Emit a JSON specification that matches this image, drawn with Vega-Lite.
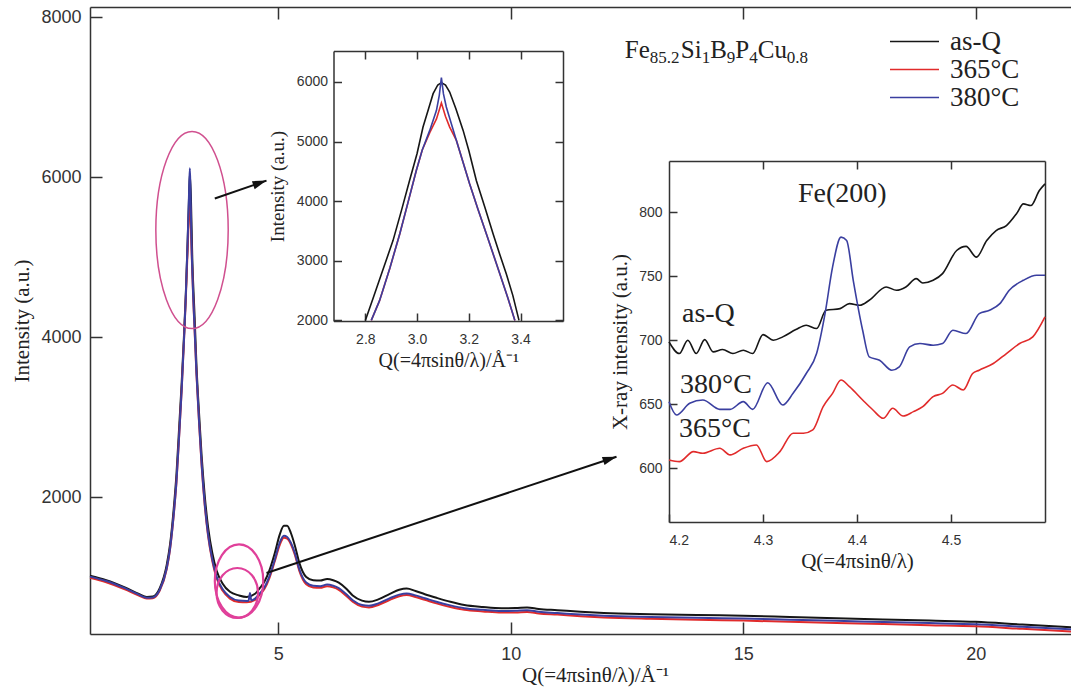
{
"$schema":"https://vega.github.io/schema/vega-lite/v6.json",
"width":983,"height":627,"autosize":"none",
"padding":{"left":90,"top":7,"right":0,"bottom":54},
"background":"white",
"config":{"view":{"stroke":null},"font":"Liberation Serif",
 "axis":{"grid":false,"labelFont":"Liberation Sans","titleFont":"Liberation Serif","titleFontWeight":"normal","labelColor":"#333","titleColor":"#222","domainColor":"#333","tickColor":"#333","domainWidth":1.5,"tickWidth":1.5}},
"datasets":{
"main":[
{"s":"as-Q","q":0.95,"v":1015},{"s":"as-Q","q":1.3,"v":960},{"s":"as-Q","q":1.7,"v":870},{"s":"as-Q","q":2.0,"v":790},{"s":"as-Q","q":2.17,"v":750},{"s":"as-Q","q":2.3,"v":755},{"s":"as-Q","q":2.45,"v":860},{"s":"as-Q","q":2.6,"v":1150},{"s":"as-Q","q":2.67,"v":1400},{"s":"as-Q","q":2.75,"v":1850},{"s":"as-Q","q":2.81,"v":2290},{"s":"as-Q","q":2.87,"v":2900},{"s":"as-Q","q":2.92,"v":3410},{"s":"as-Q","q":2.97,"v":4000},{"s":"as-Q","q":3.01,"v":4530},{"s":"as-Q","q":3.05,"v":5200},{"s":"as-Q","q":3.08,"v":5750},{"s":"as-Q","q":3.097,"v":6040},{"s":"as-Q","q":3.12,"v":5750},{"s":"as-Q","q":3.15,"v":4980},{"s":"as-Q","q":3.2,"v":4250},{"s":"as-Q","q":3.24,"v":3640},{"s":"as-Q","q":3.3,"v":3000},{"s":"as-Q","q":3.35,"v":2520},{"s":"as-Q","q":3.42,"v":2000},{"s":"as-Q","q":3.49,"v":1620},{"s":"as-Q","q":3.58,"v":1300},{"s":"as-Q","q":3.67,"v":1085},{"s":"as-Q","q":3.8,"v":920},{"s":"as-Q","q":3.96,"v":815},{"s":"as-Q","q":4.15,"v":770},{"s":"as-Q","q":4.32,"v":750},{"s":"as-Q","q":4.5,"v":790},{"s":"as-Q","q":4.6,"v":860},{"s":"as-Q","q":4.7,"v":940},{"s":"as-Q","q":4.81,"v":1085},{"s":"as-Q","q":4.92,"v":1290},{"s":"as-Q","q":5.03,"v":1530},{"s":"as-Q","q":5.12,"v":1640},{"s":"as-Q","q":5.19,"v":1640},{"s":"as-Q","q":5.27,"v":1550},{"s":"as-Q","q":5.355,"v":1395},{"s":"as-Q","q":5.45,"v":1180},{"s":"as-Q","q":5.6,"v":1000},{"s":"as-Q","q":5.75,"v":960},{"s":"as-Q","q":5.9,"v":955},{"s":"as-Q","q":6.05,"v":975},{"s":"as-Q","q":6.18,"v":960},{"s":"as-Q","q":6.3,"v":930},{"s":"as-Q","q":6.45,"v":860},{"s":"as-Q","q":6.6,"v":770},{"s":"as-Q","q":6.8,"v":705},{"s":"as-Q","q":6.95,"v":690},{"s":"as-Q","q":7.15,"v":720},{"s":"as-Q","q":7.4,"v":790},{"s":"as-Q","q":7.6,"v":840},{"s":"as-Q","q":7.76,"v":855},{"s":"as-Q","q":7.95,"v":825},{"s":"as-Q","q":8.15,"v":785},{"s":"as-Q","q":8.4,"v":740},{"s":"as-Q","q":8.7,"v":690},{"s":"as-Q","q":9.0,"v":650},{"s":"as-Q","q":9.4,"v":625},{"s":"as-Q","q":9.8,"v":610},{"s":"as-Q","q":10.1,"v":612},{"s":"as-Q","q":10.35,"v":620},{"s":"as-Q","q":10.6,"v":600},{"s":"as-Q","q":11.0,"v":585},{"s":"as-Q","q":11.5,"v":565},{"s":"as-Q","q":12,"v":550},{"s":"as-Q","q":13,"v":535},{"s":"as-Q","q":14,"v":525},{"s":"as-Q","q":15,"v":515},{"s":"as-Q","q":16,"v":500},{"s":"as-Q","q":17,"v":485},{"s":"as-Q","q":18,"v":470},{"s":"as-Q","q":19,"v":455},{"s":"as-Q","q":20,"v":440},{"s":"as-Q","q":21,"v":405},{"s":"as-Q","q":22.1,"v":370},
{"s":"365°C","q":0.95,"v":990},{"s":"365°C","q":1.3,"v":935},{"s":"365°C","q":1.7,"v":845},{"s":"365°C","q":2.0,"v":768},{"s":"365°C","q":2.17,"v":732},{"s":"365°C","q":2.3,"v":735},{"s":"365°C","q":2.45,"v":830},{"s":"365°C","q":2.6,"v":1100},{"s":"365°C","q":2.67,"v":1340},{"s":"365°C","q":2.75,"v":1770},{"s":"365°C","q":2.81,"v":2190},{"s":"365°C","q":2.87,"v":2790},{"s":"365°C","q":2.92,"v":3320},{"s":"365°C","q":2.97,"v":3940},{"s":"365°C","q":3.01,"v":4480},{"s":"365°C","q":3.05,"v":5100},{"s":"365°C","q":3.08,"v":5550},{"s":"365°C","q":3.097,"v":5700},{"s":"365°C","q":3.11,"v":5600},{"s":"365°C","q":3.13,"v":5150},{"s":"365°C","q":3.17,"v":4480},{"s":"365°C","q":3.2,"v":4080},{"s":"365°C","q":3.24,"v":3530},{"s":"365°C","q":3.3,"v":2880},{"s":"365°C","q":3.35,"v":2400},{"s":"365°C","q":3.42,"v":1880},{"s":"365°C","q":3.49,"v":1510},{"s":"365°C","q":3.58,"v":1200},{"s":"365°C","q":3.67,"v":990},{"s":"365°C","q":3.8,"v":830},{"s":"365°C","q":3.96,"v":730},{"s":"365°C","q":4.15,"v":688},{"s":"365°C","q":4.32,"v":685},{"s":"365°C","q":4.5,"v":715},{"s":"365°C","q":4.6,"v":780},{"s":"365°C","q":4.7,"v":850},{"s":"365°C","q":4.81,"v":990},{"s":"365°C","q":4.92,"v":1190},{"s":"365°C","q":5.03,"v":1400},{"s":"365°C","q":5.12,"v":1490},{"s":"365°C","q":5.19,"v":1480},{"s":"365°C","q":5.27,"v":1410},{"s":"365°C","q":5.355,"v":1280},{"s":"365°C","q":5.45,"v":1080},{"s":"365°C","q":5.6,"v":910},{"s":"365°C","q":5.75,"v":870},{"s":"365°C","q":5.9,"v":865},{"s":"365°C","q":6.05,"v":885},{"s":"365°C","q":6.18,"v":870},{"s":"365°C","q":6.3,"v":840},{"s":"365°C","q":6.45,"v":770},{"s":"365°C","q":6.6,"v":690},{"s":"365°C","q":6.8,"v":630},{"s":"365°C","q":6.95,"v":620},{"s":"365°C","q":7.15,"v":650},{"s":"365°C","q":7.4,"v":715},{"s":"365°C","q":7.6,"v":760},{"s":"365°C","q":7.76,"v":775},{"s":"365°C","q":7.95,"v":750},{"s":"365°C","q":8.15,"v":715},{"s":"365°C","q":8.4,"v":670},{"s":"365°C","q":8.7,"v":625},{"s":"365°C","q":9.0,"v":590},{"s":"365°C","q":9.4,"v":570},{"s":"365°C","q":9.8,"v":555},{"s":"365°C","q":10.1,"v":556},{"s":"365°C","q":10.35,"v":562},{"s":"365°C","q":10.6,"v":545},{"s":"365°C","q":11.0,"v":530},{"s":"365°C","q":11.5,"v":510},{"s":"365°C","q":12,"v":495},{"s":"365°C","q":13,"v":478},{"s":"365°C","q":14,"v":466},{"s":"365°C","q":15,"v":455},{"s":"365°C","q":16,"v":440},{"s":"365°C","q":17,"v":426},{"s":"365°C","q":18,"v":412},{"s":"365°C","q":19,"v":398},{"s":"365°C","q":20,"v":384},{"s":"365°C","q":21,"v":352},{"s":"365°C","q":22.1,"v":318},
{"s":"380°C","q":0.95,"v":1005},{"s":"380°C","q":1.3,"v":950},{"s":"380°C","q":1.7,"v":860},{"s":"380°C","q":2.0,"v":780},{"s":"380°C","q":2.17,"v":742},{"s":"380°C","q":2.3,"v":745},{"s":"380°C","q":2.45,"v":840},{"s":"380°C","q":2.6,"v":1110},{"s":"380°C","q":2.67,"v":1350},{"s":"380°C","q":2.75,"v":1780},{"s":"380°C","q":2.81,"v":2200},{"s":"380°C","q":2.87,"v":2800},{"s":"380°C","q":2.92,"v":3330},{"s":"380°C","q":2.97,"v":3950},{"s":"380°C","q":3.01,"v":4500},{"s":"380°C","q":3.05,"v":5200},{"s":"380°C","q":3.08,"v":5800},{"s":"380°C","q":3.097,"v":6110},{"s":"380°C","q":3.11,"v":5850},{"s":"380°C","q":3.13,"v":5250},{"s":"380°C","q":3.17,"v":4500},{"s":"380°C","q":3.2,"v":4100},{"s":"380°C","q":3.24,"v":3550},{"s":"380°C","q":3.3,"v":2900},{"s":"380°C","q":3.35,"v":2420},{"s":"380°C","q":3.42,"v":1900},{"s":"380°C","q":3.49,"v":1530},{"s":"380°C","q":3.58,"v":1220},{"s":"380°C","q":3.67,"v":1010},{"s":"380°C","q":3.8,"v":850},{"s":"380°C","q":3.96,"v":750},{"s":"380°C","q":4.15,"v":705},{"s":"380°C","q":4.32,"v":700},{"s":"380°C","q":4.36,"v":703},{"s":"380°C","q":4.39,"v":800},{"s":"380°C","q":4.42,"v":706},{"s":"380°C","q":4.5,"v":730},{"s":"380°C","q":4.6,"v":795},{"s":"380°C","q":4.7,"v":870},{"s":"380°C","q":4.81,"v":1010},{"s":"380°C","q":4.92,"v":1210},{"s":"380°C","q":5.03,"v":1430},{"s":"380°C","q":5.12,"v":1515},{"s":"380°C","q":5.19,"v":1500},{"s":"380°C","q":5.27,"v":1430},{"s":"380°C","q":5.355,"v":1300},{"s":"380°C","q":5.45,"v":1100},{"s":"380°C","q":5.6,"v":930},{"s":"380°C","q":5.75,"v":890},{"s":"380°C","q":5.9,"v":885},{"s":"380°C","q":6.05,"v":905},{"s":"380°C","q":6.18,"v":890},{"s":"380°C","q":6.3,"v":860},{"s":"380°C","q":6.45,"v":790},{"s":"380°C","q":6.6,"v":710},{"s":"380°C","q":6.8,"v":650},{"s":"380°C","q":6.95,"v":640},{"s":"380°C","q":7.15,"v":670},{"s":"380°C","q":7.4,"v":735},{"s":"380°C","q":7.6,"v":780},{"s":"380°C","q":7.76,"v":795},{"s":"380°C","q":7.95,"v":770},{"s":"380°C","q":8.15,"v":735},{"s":"380°C","q":8.4,"v":690},{"s":"380°C","q":8.7,"v":645},{"s":"380°C","q":9.0,"v":610},{"s":"380°C","q":9.4,"v":590},{"s":"380°C","q":9.8,"v":575},{"s":"380°C","q":10.1,"v":578},{"s":"380°C","q":10.35,"v":585},{"s":"380°C","q":10.6,"v":565},{"s":"380°C","q":11.0,"v":550},{"s":"380°C","q":11.5,"v":530},{"s":"380°C","q":12,"v":515},{"s":"380°C","q":13,"v":500},{"s":"380°C","q":14,"v":490},{"s":"380°C","q":15,"v":480},{"s":"380°C","q":16,"v":466},{"s":"380°C","q":17,"v":452},{"s":"380°C","q":18,"v":438},{"s":"380°C","q":19,"v":424},{"s":"380°C","q":20,"v":410},{"s":"380°C","q":21,"v":378},{"s":"380°C","q":22.1,"v":345}
],
"in1":[
{"s":"as-Q","q":2.8,"v":2000},{"s":"as-Q","q":2.829,"v":2359},{"s":"as-Q","q":2.868,"v":2850},{"s":"as-Q","q":2.907,"v":3339},{"s":"as-Q","q":2.94,"v":3850},{"s":"as-Q","q":2.971,"v":4347},{"s":"as-Q","q":3.0,"v":4800},{"s":"as-Q","q":3.023,"v":5244},{"s":"as-Q","q":3.045,"v":5560},{"s":"as-Q","q":3.062,"v":5804},{"s":"as-Q","q":3.08,"v":5950},{"s":"as-Q","q":3.094,"v":5990},{"s":"as-Q","q":3.11,"v":5950},{"s":"as-Q","q":3.126,"v":5832},{"s":"as-Q","q":3.15,"v":5550},{"s":"as-Q","q":3.178,"v":5188},{"s":"as-Q","q":3.2,"v":4850},{"s":"as-Q","q":3.229,"v":4347},{"s":"as-Q","q":3.262,"v":3900},{"s":"as-Q","q":3.294,"v":3451},{"s":"as-Q","q":3.32,"v":3100},{"s":"as-Q","q":3.345,"v":2779},{"s":"as-Q","q":3.37,"v":2420},{"s":"as-Q","q":3.394,"v":2000},
{"s":"365°C","q":2.823,"v":2000},{"s":"365°C","q":2.855,"v":2331},{"s":"365°C","q":2.895,"v":2880},{"s":"365°C","q":2.933,"v":3451},{"s":"365°C","q":2.965,"v":3980},{"s":"365°C","q":2.997,"v":4515},{"s":"365°C","q":3.02,"v":4860},{"s":"365°C","q":3.049,"v":5150},{"s":"365°C","q":3.075,"v":5380},{"s":"365°C","q":3.094,"v":5647},{"s":"365°C","q":3.11,"v":5420},{"s":"365°C","q":3.126,"v":5244},{"s":"365°C","q":3.152,"v":5020},{"s":"365°C","q":3.203,"v":4291},{"s":"365°C","q":3.235,"v":3870},{"s":"365°C","q":3.268,"v":3451},{"s":"365°C","q":3.32,"v":2779},{"s":"365°C","q":3.35,"v":2390},{"s":"365°C","q":3.378,"v":2000},
{"s":"380°C","q":2.823,"v":2000},{"s":"380°C","q":2.855,"v":2331},{"s":"380°C","q":2.895,"v":2880},{"s":"380°C","q":2.933,"v":3451},{"s":"380°C","q":2.965,"v":3980},{"s":"380°C","q":2.997,"v":4515},{"s":"380°C","q":3.02,"v":4860},{"s":"380°C","q":3.049,"v":5188},{"s":"380°C","q":3.075,"v":5524},{"s":"380°C","q":3.086,"v":5780},{"s":"380°C","q":3.094,"v":6073},{"s":"380°C","q":3.102,"v":5800},{"s":"380°C","q":3.113,"v":5580},{"s":"380°C","q":3.152,"v":5020},{"s":"380°C","q":3.203,"v":4291},{"s":"380°C","q":3.235,"v":3870},{"s":"380°C","q":3.268,"v":3451},{"s":"380°C","q":3.32,"v":2779},{"s":"380°C","q":3.35,"v":2390},{"s":"380°C","q":3.378,"v":2000}
],
"in2":[
{"s":"as-Q","q":4.2,"v":698.7},{"s":"as-Q","q":4.211,"v":689.6},{"s":"as-Q","q":4.22,"v":700.0},{"s":"as-Q","q":4.229,"v":689.6},{"s":"as-Q","q":4.238,"v":700.5},{"s":"as-Q","q":4.247,"v":690.9},{"s":"as-Q","q":4.257,"v":692.7},{"s":"as-Q","q":4.268,"v":689.6},{"s":"as-Q","q":4.279,"v":692.2},{"s":"as-Q","q":4.289,"v":689.6},{"s":"as-Q","q":4.3,"v":704.4},{"s":"as-Q","q":4.311,"v":700.0},{"s":"as-Q","q":4.321,"v":702.6},{"s":"as-Q","q":4.335,"v":708.3},{"s":"as-Q","q":4.346,"v":711.7},{"s":"as-Q","q":4.357,"v":709.1},{"s":"as-Q","q":4.367,"v":723.4},{"s":"as-Q","q":4.382,"v":724.7},{"s":"as-Q","q":4.392,"v":728.6},{"s":"as-Q","q":4.403,"v":727.3},{"s":"as-Q","q":4.413,"v":731.2},{"s":"as-Q","q":4.431,"v":741.6},{"s":"as-Q","q":4.442,"v":739.0},{"s":"as-Q","q":4.452,"v":741.6},{"s":"as-Q","q":4.463,"v":748.1},{"s":"as-Q","q":4.47,"v":744.7},{"s":"as-Q","q":4.481,"v":746.8},{"s":"as-Q","q":4.491,"v":752.0},{"s":"as-Q","q":4.506,"v":770.1},{"s":"as-Q","q":4.516,"v":773.3},{"s":"as-Q","q":4.527,"v":764.9},{"s":"as-Q","q":4.538,"v":777.9},{"s":"as-Q","q":4.548,"v":785.7},{"s":"as-Q","q":4.559,"v":789.6},{"s":"as-Q","q":4.57,"v":799.2},{"s":"as-Q","q":4.577,"v":806.5},{"s":"as-Q","q":4.585,"v":805.2},{"s":"as-Q","q":4.594,"v":816.9},{"s":"as-Q","q":4.6,"v":822.1},
{"s":"365°C","q":4.2,"v":606.5},{"s":"365°C","q":4.211,"v":605.2},{"s":"365°C","q":4.226,"v":613.0},{"s":"365°C","q":4.236,"v":611.7},{"s":"365°C","q":4.254,"v":615.6},{"s":"365°C","q":4.265,"v":610.4},{"s":"365°C","q":4.279,"v":615.6},{"s":"365°C","q":4.293,"v":618.2},{"s":"365°C","q":4.304,"v":605.2},{"s":"365°C","q":4.318,"v":613.0},{"s":"365°C","q":4.332,"v":627.3},{"s":"365°C","q":4.343,"v":627.3},{"s":"365°C","q":4.353,"v":629.9},{"s":"365°C","q":4.364,"v":648.1},{"s":"365°C","q":4.374,"v":658.5},{"s":"365°C","q":4.383,"v":668.9},{"s":"365°C","q":4.392,"v":663.7},{"s":"365°C","q":4.406,"v":653.3},{"s":"365°C","q":4.417,"v":645.5},{"s":"365°C","q":4.428,"v":639.0},{"s":"365°C","q":4.438,"v":646.8},{"s":"365°C","q":4.449,"v":640.8},{"s":"365°C","q":4.46,"v":644.2},{"s":"365°C","q":4.47,"v":648.1},{"s":"365°C","q":4.481,"v":655.9},{"s":"365°C","q":4.491,"v":658.5},{"s":"365°C","q":4.502,"v":665.0},{"s":"365°C","q":4.513,"v":661.1},{"s":"365°C","q":4.523,"v":674.0},{"s":"365°C","q":4.53,"v":676.6},{"s":"365°C","q":4.545,"v":681.8},{"s":"365°C","q":4.559,"v":689.6},{"s":"365°C","q":4.573,"v":697.4},{"s":"365°C","q":4.587,"v":702.6},{"s":"365°C","q":4.6,"v":718.2},
{"s":"380°C","q":4.2,"v":652},{"s":"380°C","q":4.208,"v":641.6},{"s":"380°C","q":4.222,"v":650.7},{"s":"380°C","q":4.236,"v":653.3},{"s":"380°C","q":4.254,"v":646.0},{"s":"380°C","q":4.265,"v":646.0},{"s":"380°C","q":4.279,"v":652.0},{"s":"380°C","q":4.289,"v":646.0},{"s":"380°C","q":4.305,"v":666.8},{"s":"380°C","q":4.321,"v":649.4},{"s":"380°C","q":4.332,"v":658.5},{"s":"380°C","q":4.346,"v":674.0},{"s":"380°C","q":4.357,"v":689.6},{"s":"380°C","q":4.366,"v":720.8},{"s":"380°C","q":4.374,"v":757.1},{"s":"380°C","q":4.383,"v":780.5},{"s":"380°C","q":4.389,"v":777.9},{"s":"380°C","q":4.396,"v":746.8},{"s":"380°C","q":4.406,"v":707.8},{"s":"380°C","q":4.413,"v":687.0},{"s":"380°C","q":4.424,"v":684.4},{"s":"380°C","q":4.437,"v":676.6},{"s":"380°C","q":4.445,"v":679.2},{"s":"380°C","q":4.456,"v":694.8},{"s":"380°C","q":4.467,"v":697.4},{"s":"380°C","q":4.481,"v":696.1},{"s":"380°C","q":4.491,"v":697.4},{"s":"380°C","q":4.502,"v":707.8},{"s":"380°C","q":4.516,"v":705.2},{"s":"380°C","q":4.53,"v":720.8},{"s":"380°C","q":4.541,"v":723.4},{"s":"380°C","q":4.552,"v":728.6},{"s":"380°C","q":4.562,"v":739.0},{"s":"380°C","q":4.577,"v":746.8},{"s":"380°C","q":4.591,"v":750.7},{"s":"380°C","q":4.6,"v":750.7}
]
},
"layer":[
{
 "encoding":{
  "x":{"field":"q","type":"quantitative","scale":{"domain":[0.95,22.09],"nice":false,"zero":false},
   "axis":{"orient":"bottom","values":[5,10,15,20],"format":"d","title":"Q(=4πsinθ/λ)/Å⁻¹","tickSize":-12,"labelFontSize":18,"labelPadding":23,"titleFontSize":21,"titlePadding":1,"titleX":505}},
  "y":{"field":"v","type":"quantitative","scale":{"domain":[287.5,8125],"nice":false,"zero":false},
   "axis":{"orient":"left","values":[2000,4000,6000,8000],"format":"d","title":"Intensity (a.u.)","tickSize":-12,"labelFontSize":18,"labelPadding":21,"titleFontSize":21,"titlePadding":8}}
 },
 "layer":[
  {"layer":[
   {"data":{"name":"main"},"mark":{"type":"line","strokeWidth":2,"interpolate":"monotone"},
    "encoding":{"color":{"field":"s","type":"nominal","scale":{"domain":["as-Q","365°C","380°C"],"range":["#161616","#e12b2b","#3a3fa0"]},
     "legend":{"orient":"none","legendX":811,"legendY":21,"title":null,"symbolType":"M -7 0 L 7 0","symbolSize":49,"symbolStrokeWidth":1.6,"labelFont":"Liberation Serif","labelFontSize":27,"labelColor":"#222","labelOffset":22,"rowPadding":0,"padding":0}}}},
   {"data":{"values":[{"q":3.144,"v":5337.5}]},"mark":{"type":"point","shape":"M -0.367 0 A 0.367 1 0 1 0 0.367 0 A 0.367 1 0 1 0 -0.367 0 Z","size":38888,"filled":false,"color":"#d0508f","strokeWidth":1.5,"opacity":1}},
   {"data":{"values":[{"q":4.155,"v":950}]},"mark":{"type":"point","shape":"M -0.66 0 A 0.66 1 0 1 0 0.66 0 A 0.66 1 0 1 0 -0.66 0 Z","size":5388,"filled":false,"color":"#e0409a","strokeWidth":2.2,"opacity":1}},
   {"data":{"values":[{"q":4.118,"v":800}]},"mark":{"type":"point","shape":"M -0.83 0 A 0.83 1 0 1 0 0.83 0 A 0.83 1 0 1 0 -0.83 0 Z","size":2500,"filled":false,"color":"#e0409a","strokeWidth":2.2,"opacity":1}},
   {"data":{"values":[{"q":3.634,"v":5731,"q2":4.746,"v2":5955}]},"mark":{"type":"rule","color":"#111","strokeWidth":2},"encoding":{"x2":{"field":"q2"},"y2":{"field":"v2"}}},
   {"data":{"values":[{"q":4.746,"v":5955}]},"mark":{"type":"point","shape":"M 0 0 L -2 -0.6 L -2 0.6 Z","size":196,"filled":true,"color":"#111","angle":-19,"opacity":1}},
   {"data":{"values":[{"q":4.746,"v":1050,"q2":12.273,"v2":2504}]},"mark":{"type":"rule","color":"#111","strokeWidth":2},"encoding":{"x2":{"field":"q2"},"y2":{"field":"v2"}}},
   {"data":{"values":[{"q":12.273,"v":2504}]},"mark":{"type":"point","shape":"M 0 0 L -2 -0.6 L -2 0.6 Z","size":196,"filled":true,"color":"#111","angle":-18.4,"opacity":1}},
   {"data":{"values":[{"t":"Fe","q":12.452,"v":7487.5},{"t":"Si","q":13.656,"v":7487.5},{"t":"B","q":14.29,"v":7487.5},{"t":"P","q":14.828,"v":7487.5},{"t":"Cu","q":15.312,"v":7487.5}]},
    "mark":{"type":"text","align":"left","baseline":"alphabetic","font":"Liberation Serif","fontSize":25,"color":"#222"},"encoding":{"text":{"field":"t","type":"nominal"}}},
   {"data":{"values":[{"t":"85.2","q":12.989,"v":7425},{"t":"1","q":14.108,"v":7425},{"t":"9","q":14.645,"v":7425},{"t":"4","q":15.129,"v":7425},{"t":"0.8","q":15.935,"v":7425}]},
    "mark":{"type":"text","align":"left","baseline":"alphabetic","font":"Liberation Serif","fontSize":17,"color":"#222"},"encoding":{"text":{"field":"t","type":"nominal"}}}
  ]},
  {"data":{"name":"main"},"mark":{"type":"point","opacity":0},
   "encoding":{"x":{"field":"q","type":"quantitative","scale":{"domain":[0.95,22.09],"nice":false,"zero":false},
    "axis":{"orient":"top","values":[5,10,15,20],"labels":false,"title":null,"tickSize":-12}}}}
 ],
 "resolve":{"axis":{"x":"independent"}}
},
{
 "encoding":{
  "x":{"field":"q","type":"quantitative","scale":{"domain":[2.677,3.564],"range":[243.5,473],"nice":false,"zero":false},
   "axis":{"orient":"bottom","offset":-313,"values":[2.8,3.0,3.2,3.4],"format":".1f","title":"Q(=4πsinθ/λ)/Å⁻¹","tickSize":-8,"labelFontSize":14,"labelPadding":19,"titleFontSize":20,"titlePadding":4}},
  "y":{"field":"v","type":"quantitative","scale":{"domain":[1990,6520],"range":[314,44],"nice":false,"zero":false},
   "axis":{"orient":"left","offset":-243.5,"values":[2000,3000,4000,5000,6000],"format":"d","title":"Intensity (a.u.)","tickSize":-8,"labelFontSize":14,"labelPadding":14,"titleFontSize":19,"titlePadding":9}}
 },
 "layer":[
  {"data":{"name":"in1"},"mark":{"type":"line","strokeWidth":1.6},
   "encoding":{"color":{"field":"s","type":"nominal","scale":{"domain":["as-Q","365°C","380°C"],"range":["#161616","#e12b2b","#3a3fa0"]},
     "legend":{"orient":"none","legendX":811,"legendY":21,"title":null,"symbolType":"M -7 0 L 7 0","symbolSize":49,"symbolStrokeWidth":1.6,"labelFont":"Liberation Serif","labelFontSize":27,"labelColor":"#222","labelOffset":22,"rowPadding":0,"padding":0}}}},
  {"data":{"name":"in1"},"mark":{"type":"point","opacity":0},
   "encoding":{
    "x":{"field":"q","type":"quantitative","scale":{"domain":[2.677,3.564],"range":[243.5,473],"nice":false,"zero":false},
     "axis":{"orient":"top","offset":-44,"values":[2.8,3.0,3.2,3.4],"labels":false,"title":null,"tickSize":-8}},
    "y":{"field":"v","type":"quantitative","scale":{"domain":[1990,6520],"range":[314,44],"nice":false,"zero":false},
     "axis":{"orient":"right","offset":-510,"values":[2000,3000,4000,5000,6000],"labels":false,"title":null,"tickSize":-8}}}}
 ],
 "resolve":{"axis":{"x":"independent","y":"independent"}}
},
{
 "encoding":{
  "x":{"field":"q","type":"quantitative","scale":{"domain":[4.2,4.6],"range":[579,955],"nice":false,"zero":false},
   "axis":{"orient":"bottom","offset":-112,"values":[4.2,4.3,4.4,4.5],"format":".1f","title":"Q(=4πsinθ/λ)","tickSize":-8,"labelFontSize":14,"labelPadding":19,"titleFontSize":21,"titlePadding":3}},
  "y":{"field":"v","type":"quantitative","scale":{"domain":[558,840],"range":[515,154],"nice":false,"zero":false},
   "axis":{"orient":"left","offset":-579,"values":[600,650,700,750,800],"format":"d","title":"X-ray intensity (a.u.)","tickSize":-8,"labelFontSize":14,"labelPadding":15,"titleFontSize":21,"titlePadding":8}}
 },
 "layer":[
  {"layer":[
   {"data":{"name":"in2"},"mark":{"type":"line","strokeWidth":1.6,"interpolate":"monotone"},
    "encoding":{"color":{"field":"s","type":"nominal","scale":{"domain":["as-Q","365°C","380°C"],"range":["#161616","#e12b2b","#3a3fa0"]},
     "legend":{"orient":"none","legendX":811,"legendY":21,"title":null,"symbolType":"M -7 0 L 7 0","symbolSize":49,"symbolStrokeWidth":1.6,"labelFont":"Liberation Serif","labelFontSize":27,"labelColor":"#222","labelOffset":22,"rowPadding":0,"padding":0}}}},
   {"data":{"values":[{"t":"Fe(200)","q":4.3372,"v":807.8},{"t":"as-Q","q":4.2138,"v":714.1},{"t":"380°C","q":4.2117,"v":658.6},{"t":"365°C","q":4.2106,"v":624.2}]},
    "mark":{"type":"text","align":"left","baseline":"alphabetic","font":"Liberation Serif","fontSize":28,"color":"#222"},"encoding":{"text":{"field":"t","type":"nominal"}}}
  ]},
  {"data":{"name":"in2"},"mark":{"type":"point","opacity":0},
   "encoding":{
    "x":{"field":"q","type":"quantitative","scale":{"domain":[4.2,4.6],"range":[579,955],"nice":false,"zero":false},
     "axis":{"orient":"top","offset":-154,"values":[4.3,4.4,4.5],"labels":false,"title":null,"tickSize":-8}},
    "y":{"field":"v","type":"quantitative","scale":{"domain":[558,840],"range":[515,154],"nice":false,"zero":false},
     "axis":{"orient":"right","offset":-28,"ticks":false,"labels":false,"title":null}}}}
 ],
 "resolve":{"axis":{"x":"independent","y":"independent"}}
}
],
"resolve":{"scale":{"x":"independent","y":"independent"}}
}
